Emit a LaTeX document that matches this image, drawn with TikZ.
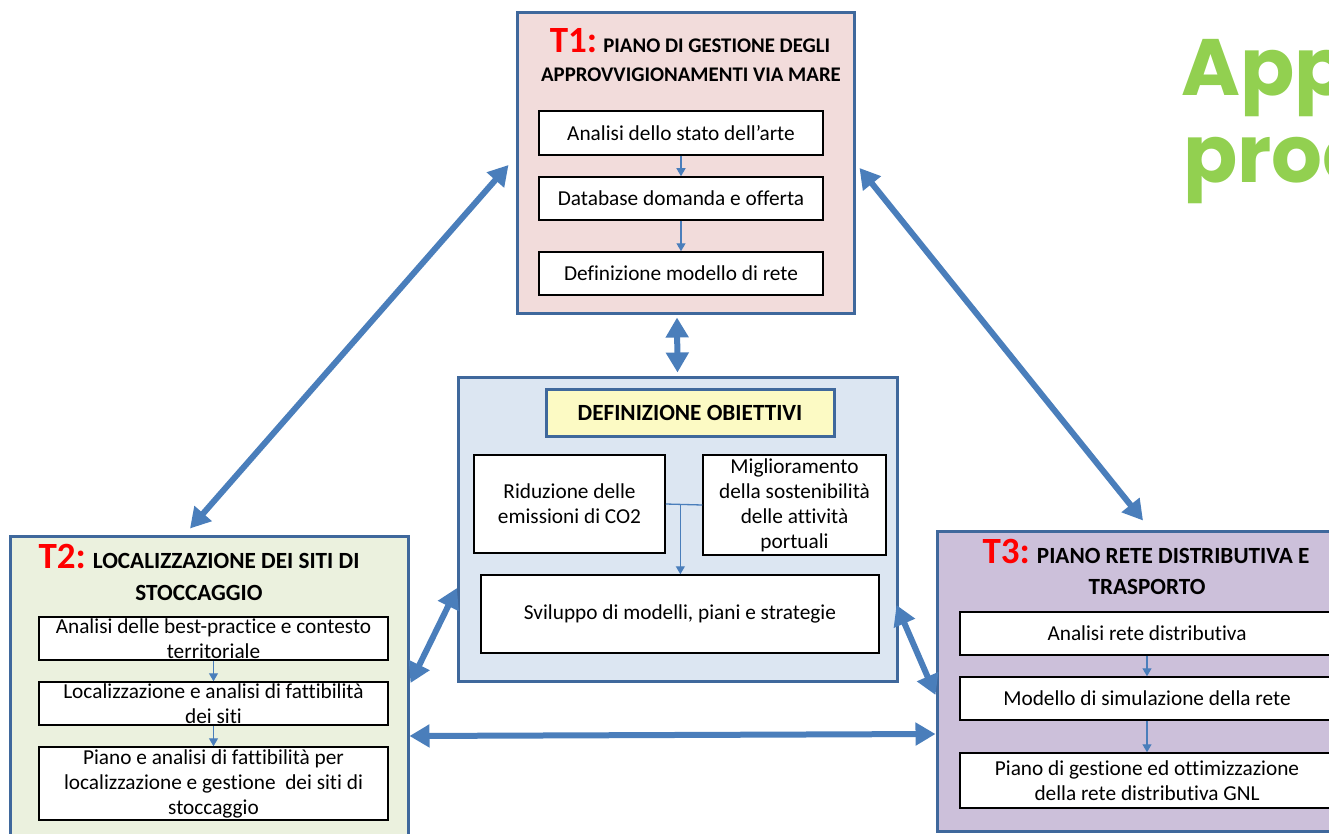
\documentclass[tikz,border=0pt]{standalone}
\usepackage{fontspec}
\setmainfont{Carlito}[Ligatures=NoCommon]
\newfontfamily\greenfont{Poppins}
\usetikzlibrary{arrows.meta,calc}

\definecolor{boxline}{HTML}{3F689C}
\definecolor{arrowblue}{HTML}{4A7EBB}
\definecolor{tonefill}{HTML}{F2DCDB}
\definecolor{ttwofill}{HTML}{EBF1DE}
\definecolor{tthreefill}{HTML}{CCC0DA}
\definecolor{centrefill}{HTML}{DCE6F2}
\definecolor{goalfill}{HTML}{FCFAC4}
\definecolor{titlegreen}{HTML}{92D050}

\newcommand{\tnum}[1]{{\color{red}\fontsize{37}{37}\selectfont #1}}

\tikzset{
  taskbox/.style={draw=boxline, line width=3pt, inner sep=0pt},
  stepbox/.style={draw=black, line width=1.5pt, fill=white, inner sep=0pt,
    align=center, font=\fontsize{21.3}{25}\selectfont},
  headline/.style={anchor=base, inner sep=0pt, font=\bfseries\fontsize{23.2}{26}\selectfont},
  smallhead/.style={headline, font=\bfseries\fontsize{20.8}{24}\selectfont},
  steparrow/.style={draw=arrowblue, line width=1.3pt, -{Triangle[width=9pt,length=8pt]}},
  bigarrow/.style={draw=arrowblue, line width=6pt,
    {Triangle[width=22pt,length=20pt]}-{Triangle[width=22pt,length=20pt]}},
}

\begin{document}
\begin{tikzpicture}[x=1pt,y=-1pt]
    \useasboundingbox (0,0) rectangle (1329,834);
    \clip (0,0) rectangle (1329,834);

    % big title, cut at the right edge
    \node[anchor=base west, inner sep=0pt, text=titlegreen, font=\greenfont\bfseries\fontsize{80}{80}\selectfont] (app) at (1181,96) {App};
    \node[anchor=base west, inner sep=0pt, text=titlegreen, font=\greenfont\bfseries\fontsize{80}{80}\selectfont] (proc) at (1183,183) {proc};

    % T1
    \node[taskbox, fill=tonefill, minimum width=337, minimum height=300] (t1) at (685.5,163) {};
    \node[smallhead] (t1head) at (690,53) {\tnum{T1:} PIANO DI GESTIONE DEGLI};
    \node[smallhead] (t1sub) at (691,82) {APPROVVIGIONAMENTI VIA MARE};
    \node[stepbox, minimum width=284, minimum height=44] (s11) at (681,133) {Analisi dello stato dell’arte};
    \node[stepbox, minimum width=284, minimum height=43] (s12) at (681,198.5) {Database domanda e offerta};
    \node[stepbox, minimum width=284, minimum height=43] (s13) at (681,273.5) {Definizione modello di rete};
    \draw[steparrow] (s11.south) -- (s12.north);
    \draw[steparrow] (s12.south) -- (s13.north);

    % centre
    \node[taskbox, fill=centrefill, minimum width=439, minimum height=304] (c) at (677.5,529) {};
    \node[taskbox, fill=goalfill, minimum width=288, minimum height=47,
      font=\bfseries\fontsize{23.2}{26}\selectfont] (goal) at (690,412.5) {DEFINIZIONE OBIETTIVI};
    \node[stepbox, minimum width=191, minimum height=98] (r1) at (569.5,504) {Riduzione delle\\emissioni di CO2};
    \node[stepbox, minimum width=183, minimum height=100] (r2) at (794.5,505) {Miglioramento\\della sostenibilità\\delle attività\\portuali};
    \node[stepbox, minimum width=398, minimum height=78] (r3) at (680,614) {Sviluppo di modelli, piani e strategie};
    \coordinate (rj) at ($(r1.east)!0.4!(r2.west)$);
    \draw[draw=arrowblue, line width=1.3pt] (r1.east) -- (r2.west);
    \draw[steparrow] (rj) -- (rj |- r3.north);

    % T2
    \node[taskbox, fill=ttwofill, minimum width=398, minimum height=314] (t2) at (209,693) {};
    \node[headline] (t2head) at (199,568) {\tnum{T2:} LOCALIZZAZIONE DEI SITI DI};
    \node[headline] (t2sub) at (199,600) {STOCCAGGIO};
    \node[stepbox, minimum width=349, minimum height=43] (s21) at (213.5,638.5) {Analisi delle best-practice e contesto\\territoriale};
    \node[stepbox, minimum width=349, minimum height=43] (s22) at (213.5,703.5) {Localizzazione e analisi di fattibilità\\dei siti};
    \node[stepbox, minimum width=349, minimum height=73] (s23) at (213.5,783.5) {Piano e analisi di fattibilità per\\localizzazione e gestione\ \ dei siti di\\stoccaggio};
    \draw[steparrow] (s21.south) -- (s22.north);
    \draw[steparrow] (s22.south) -- (s23.north);

    % T3
    \node[taskbox, fill=tthreefill, minimum width=408, minimum height=300] (t3) at (1141,681) {};
    \node[headline] (t3head) at (1146,563) {\tnum{T3:} PIANO RETE DISTRIBUTIVA E};
    \node[headline] (t3sub) at (1147,594) {TRASPORTO};
    \node[stepbox, minimum width=374, minimum height=43] (s31) at (1147,633.5) {Analisi rete distributiva};
    \node[stepbox, minimum width=374, minimum height=43] (s32) at (1147,698.5) {Modello di simulazione della rete};
    \node[stepbox, minimum width=374, minimum height=55] (s33) at (1147,780.5) {Piano di gestione ed ottimizzazione\\della rete distributiva GNL};
    \draw[steparrow] (s31.south) -- (s32.north);
    \draw[steparrow] (s32.south) -- (s33.north);

    % links between the tasks
    \draw[bigarrow] ([xshift=-7pt,yshift=-2pt]t1.west) -- ([xshift=-19pt,yshift=6pt]t2.north);
    \draw[bigarrow] ([xshift=4pt,yshift=-5pt]t1.east) -- ([xshift=2pt,yshift=9pt]t3.north);
    \draw[bigarrow] ([xshift=-8.5pt,yshift=-3pt]t1.south) -- ([yshift=3pt]c.north);
    \draw[bigarrow] ([xshift=0.5pt,yshift=-59pt]c.west) -- ([xshift=1pt,yshift=10pt]t2.east);
    \draw[bigarrow] ([xshift=-2pt,yshift=-76pt]c.east) -- ([yshift=-14pt]t3.west);
    \draw[bigarrow] ([yshift=-43pt]t2.east) -- ([yshift=-53pt]t3.west);
\end{tikzpicture}
\end{document}
